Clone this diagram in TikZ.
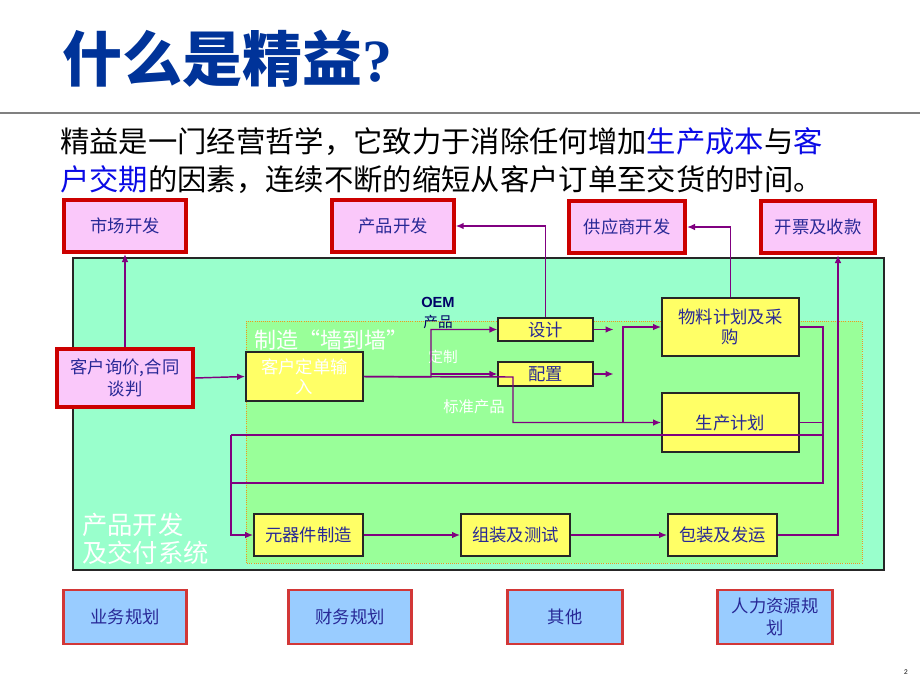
\documentclass[tikz,border=0pt]{standalone}
\usepackage{fontspec}
\setmainfont{Noto Sans CJK SC}
\newfontfamily\latinsans{Liberation Sans}
\newfontfamily\latinserif{Liberation Serif}
\usetikzlibrary{arrows.meta}
\definecolor{titleblue}{RGB}{0,51,153}
\definecolor{hiblue}{RGB}{10,10,230}
\definecolor{boxred}{RGB}{204,0,0}
\definecolor{pinkfill}{RGB}{250,200,250}
\definecolor{bluefill}{RGB}{153,204,255}
\definecolor{botred}{RGB}{210,55,55}
\definecolor{tealfill}{RGB}{153,255,204}
\definecolor{greenfill}{RGB}{153,255,153}
\definecolor{yellowfill}{RGB}{255,255,102}
\definecolor{flowpurple}{RGB}{128,0,128}
\definecolor{boxtext}{RGB}{40,40,150}
\definecolor{oemblue}{RGB}{0,0,102}
\definecolor{framerule}{RGB}{240,150,30}

\begin{document}
\begin{tikzpicture}[x=0.75pt,y=-0.75pt,
  pinkbox/.style={draw=boxred,line width=3pt,fill=pinkfill,text=boxtext,align=center,inner sep=0pt,font=\fontsize{13pt}{16pt}\selectfont},
  bluebox/.style={draw=botred,line width=2.2pt,fill=bluefill,text=boxtext,align=center,inner sep=0pt,font=\fontsize{13pt}{16pt}\selectfont,minimum height=40.5pt},
  ybox/.style={draw=black!85,line width=1.1pt,fill=yellowfill,text=boxtext,align=center,inner sep=0pt,font=\fontsize{13pt}{15pt}\selectfont},
  whitelabel/.style={text=white,inner sep=0pt,align=left},
  wire/.style={draw=flowpurple,line width=1.1pt},
  flow/.style={wire,-{Latex[length=6pt,width=5pt]}}]
  \useasboundingbox (0,0) rectangle (920,690);

  % title and intro
  \node [anchor=west,text=titleblue,font=\fontsize{45pt}{50pt}\selectfont\bfseries] (title) at (58,59) {什么是精益{\latinserif ?}};
  \draw [black!50,line width=2.2pt] (0,113) -- (920,113);
  \node [anchor=west,inner sep=0pt,font=\fontsize{22pt}{28pt}\selectfont] (intro1) at (60,142) {精益是一门经营哲学，它致力于消除任何增加\textcolor{hiblue}{生产成本}与\textcolor{hiblue}{客}};
  \node [anchor=west,inner sep=0pt,font=\fontsize{22pt}{28pt}\selectfont] (intro2) at (60,180) {\textcolor{hiblue}{户交期}的因素，连续不断的缩短从客户订单至交货的时间。};

  % system frames
  \filldraw [fill=tealfill,draw=black!85,line width=1.1pt] (73,258) rectangle (884,570);
  \filldraw [fill=greenfill,draw=framerule,densely dotted,line width=0.6pt] (246,321) rectangle (862,563);
  \node [whitelabel,anchor=west,font=\fontsize{16.5pt}{20pt}\selectfont] (walllbl) at (254,340) {制造“墙到墙”};
  \node [whitelabel,anchor=west,font=\fontsize{19pt}{21pt}\selectfont] (syslbl) at (82,539) {产品开发\\及交付系统};

  % outside functions
  \node [pinkbox,minimum width=91pt,minimum height=39pt] (mkt) at (125,226) {市场开发};
  \node [pinkbox,minimum width=91pt,minimum height=39pt] (prd) at (393,226) {产品开发};
  \node [pinkbox,minimum width=87pt,minimum height=39pt] (sup) at (627,227) {供应商开发};
  \node [pinkbox,minimum width=86pt,minimum height=39pt] (inv) at (818,227) {开票及收款};
  \node [pinkbox,minimum width=102pt,minimum height=43pt] (inq) at (125,378) {客户询价,合同\\谈判};

  % inner steps
  \node [ybox,text=white,minimum width=88pt,minimum height=37pt] (ord) at (304.5,376.5) {客户定单输\\入};
  \node [ybox,minimum width=71pt,minimum height=17pt] (dsn) at (545.5,329.5) {设计};
  \node [ybox,minimum width=71pt,minimum height=18pt] (cfg) at (545.5,374) {配置};
  \node [ybox,minimum width=103pt,minimum height=43.5pt] (mat) at (730.5,327) {物料计划及采\\购};
  \node [ybox,minimum width=103pt,minimum height=44pt] (pln) at (730.5,422.5) {生产计划};
  \node [ybox,minimum width=82pt,minimum height=31.5pt] (cmp) at (308.5,535) {元器件制造};
  \node [ybox,minimum width=82pt,minimum height=31.5pt] (asm) at (515.5,535) {组装及测试};
  \node [ybox,minimum width=82pt,minimum height=31.5pt] (pck) at (722.5,535) {包装及发运};

  \node [text=oemblue,inner sep=0pt,align=center,font=\fontsize{11pt}{15pt}\selectfont] (oem) at (438,313) {{\latinsans\bfseries OEM}\\产品};
  \node [whitelabel,font=\fontsize{11pt}{13pt}\selectfont] (cust) at (443,357) {定制};
  \node [whitelabel,font=\fontsize{11.5pt}{13pt}\selectfont] (stdlbl) at (474,407) {标准产品};

  % support functions
  \node [bluebox,minimum width=92pt] (biz) at (125,617) {业务规划};
  \node [bluebox,minimum width=92pt] (fin) at (350,617) {财务规划};
  \node [bluebox,minimum width=86pt] (oth) at (565,617) {其他};
  \node [bluebox,minimum width=86pt] (hr) at (775,617) {人力资源规\\划};

  % flows
  \coordinate (sp) at (431,377);
  \coordinate (std) at (513,377);
  \coordinate (jn) at (623,422.5);
  \coordinate (rt) at (823,483);
  \coordinate (lf) at (231,483);
  \coordinate (rtm) at (823,435);
  \coordinate (lfm) at (231,435);
  \draw [flow] (inq) -- (mkt);
  \draw [flow] (inq.east) -- (ord.west);
  \draw [flow] (ord.east) -- (sp) |- (dsn.west);
  \draw [flow] (sp |- cfg.west) -- (cfg.west);
  \draw [flow] (ord.east) -- (std) |- (pln.west);
  \draw [flow] (dsn.east) -- ++(20,0);
  \draw [flow] (cfg.east) -- ++(20,0);
  \draw [flow] (jn) |- (mat.west);
  \draw [flow] (dsn.north) |- (prd.east);
  \draw [flow] (mat.north) |- (sup.east);
  \draw [wire] (mat.east) -| (rt) -- (lf);
  \draw [wire] (pln.east) -- (pln.east -| rt);
  \draw [wire] (rtm) -- (lfm);
  \draw [flow] (lfm) |- (cmp.west);
  \draw [flow] (cmp) -- (asm);
  \draw [flow] (asm) -- (pck);
  \draw [flow] (pck.east) -| ([xshift=15pt]inv.south);

  \node [font=\latinsans\fontsize{5pt}{6pt}\selectfont] (pgno) at (906,672) {2};
\end{tikzpicture}
\end{document}
